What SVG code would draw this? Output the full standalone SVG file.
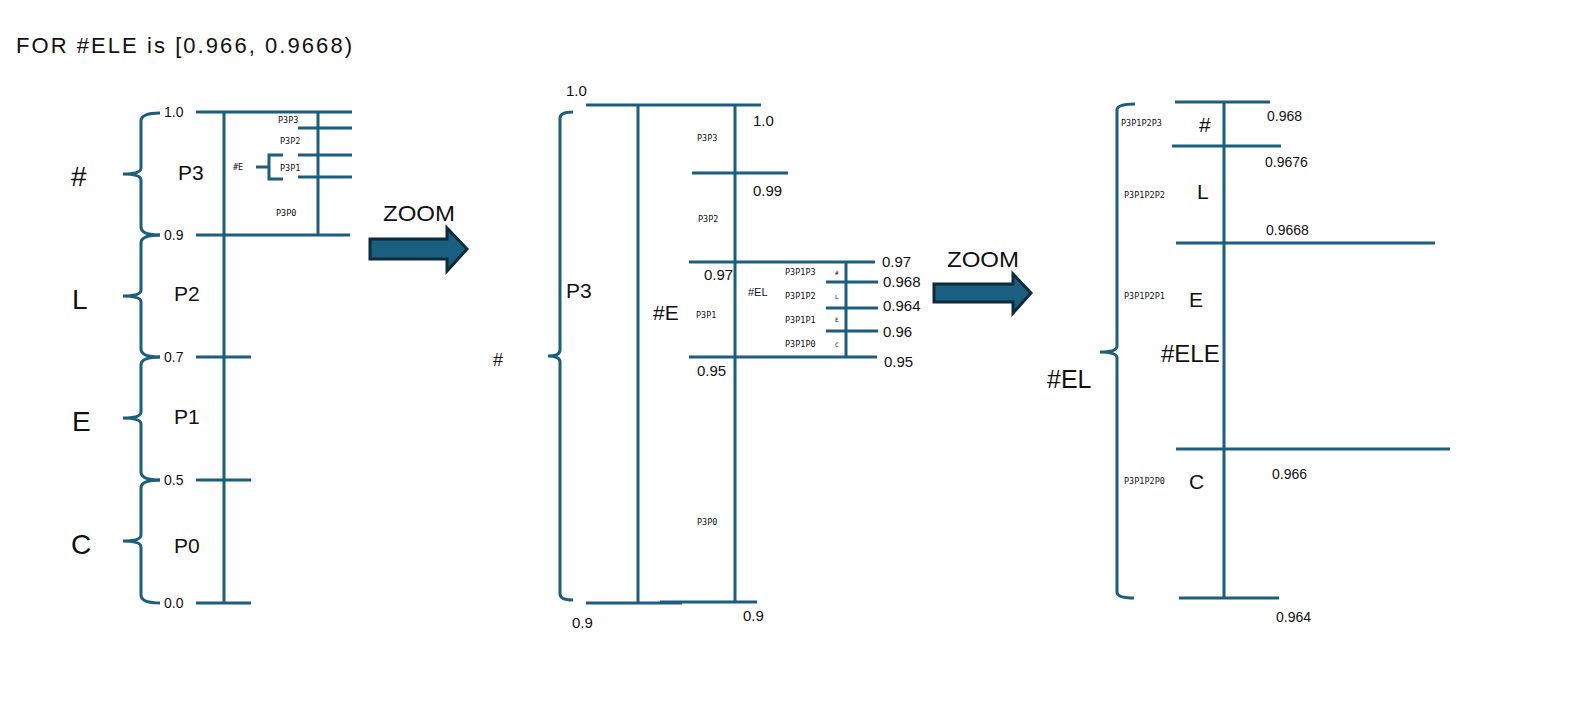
<svg xmlns="http://www.w3.org/2000/svg" width="1569" height="703" viewBox="0 0 1569 703">
<style>
.ln{stroke:#1a5f80;stroke-width:3;fill:none}
.br{stroke:#1a5f80;stroke-width:3;fill:none;stroke-linecap:butt}
.t{font-family:"Liberation Sans","DejaVu Sans",sans-serif;fill:#111}
.s14{font-size:14px}
.s15{font-size:15px}
.s20{font-size:21px}
.s28{font-size:28px}
.tiny{font-family:"DejaVu Sans Mono","Liberation Mono",monospace;font-size:8.5px;fill:#111}
.arr{fill:#1a5f80;stroke:#0d2b3b;stroke-width:3;stroke-linejoin:miter}
</style>
<rect width="1569" height="703" fill="#fff"/>
<text class="t" x="16" y="53" style="font-size:22px" textLength="336" lengthAdjust="spacing">FOR #ELE is [0.966, 0.9668)</text>

<g id="left-panel">
  <g id="left-axis">
    <line class="ln" x1="224" y1="112" x2="224" y2="604"/>
    <line class="ln" x1="196" y1="112" x2="352" y2="112"/>
    <line class="ln" x1="196" y1="235" x2="350" y2="235"/>
    <line class="ln" x1="196" y1="357" x2="251" y2="357"/>
    <line class="ln" x1="196" y1="480" x2="251" y2="480"/>
    <line class="ln" x1="196" y1="603" x2="251" y2="603"/>
    <text class="t s14" x="164" y="117">1.0</text>
    <text class="t s14" x="164" y="240">0.9</text>
    <text class="t s14" x="164" y="362">0.7</text>
    <text class="t s14" x="164" y="485">0.5</text>
    <text class="t s14" x="164" y="608">0.0</text>
  </g>
  <g id="left-braces">
    <path class="br" d="M160,113 Q141,113 141,121 L141,168 Q141,174 123,174 Q141,174 141,180 L141,227 Q141,235 160,235"/>
    <path class="br" d="M160,235 Q141,235 141,243 L141,290 Q141,296 123,296 Q141,296 141,302 L141,349 Q141,357 160,357"/>
    <path class="br" d="M160,357 Q141,357 141,365 L141,412 Q141,418 123,418 Q141,418 141,424 L141,472 Q141,480 160,480"/>
    <path class="br" d="M160,480 Q141,480 141,488 L141,535 Q141,541 123,541 Q141,541 141,547 L141,595 Q141,603 160,603"/>
  </g>
  <g id="left-labels">
    <text class="t s28" x="71" y="186">#</text>
    <text class="t s28" x="72" y="309">L</text>
    <text class="t s28" x="72" y="431">E</text>
    <text class="t s28" x="71" y="554">C</text>
    <text class="t s20" x="178" y="180">P3</text>
    <text class="t s20" x="174" y="301">P2</text>
    <text class="t s20" x="174" y="424">P1</text>
    <text class="t s20" x="174" y="553">P0</text>
  </g>
  <g id="left-sub">
    <line class="ln" x1="318" y1="112" x2="318" y2="235"/>
    <line class="ln" x1="298" y1="128" x2="352" y2="128"/>
    <line class="ln" x1="298" y1="155" x2="352" y2="155"/>
    <line class="ln" x1="298" y1="177" x2="352" y2="177"/>
    <text class="tiny" x="278" y="123">P3P3</text>
    <text class="tiny" x="280" y="144">P3P2</text>
    <text class="tiny" x="280" y="171">P3P1</text>
    <text class="tiny" x="276" y="216">P3P0</text>
    <text class="tiny" x="233" y="170">#E</text>
    <line class="ln" x1="256" y1="167" x2="269" y2="167"/>
    <path class="ln" d="M283,155 L269,155 L269,179 L283,179"/>
  </g>
</g>

<g id="zoom-arrow-1">
  <path class="arr" d="M370,239 L447,239 L447,228 L467,249 L447,271 L447,259 L370,259 Z"/>
  <text class="t" x="419" y="221" text-anchor="middle" style="font-size:22px" textLength="72" lengthAdjust="spacingAndGlyphs">ZOOM</text>
</g>

<g id="middle-panel">
  <g id="mid-axis">
    <line class="ln" x1="586" y1="105" x2="761" y2="105"/>
    <line class="ln" x1="638" y1="105" x2="638" y2="604"/>
    <line class="ln" x1="735" y1="105" x2="735" y2="603"/>
    <line class="ln" x1="692" y1="173" x2="788" y2="173"/>
    <line class="ln" x1="689" y1="262" x2="875" y2="262"/>
    <line class="ln" x1="689" y1="357" x2="877" y2="357"/>
    <line class="ln" x1="586" y1="603" x2="682" y2="603"/>
    <line class="ln" x1="660" y1="602" x2="757" y2="602"/>
    <text class="t s15" x="566" y="96">1.0</text>
    <text class="t s15" x="753" y="126">1.0</text>
    <text class="t s15" x="753" y="196">0.99</text>
    <text class="t s15" x="704" y="280">0.97</text>
    <text class="t s15" x="882" y="267">0.97</text>
    <text class="t s15" x="697" y="376">0.95</text>
    <text class="t s15" x="884" y="367">0.95</text>
    <text class="t s15" x="572" y="628">0.9</text>
    <text class="t s15" x="743" y="621">0.9</text>
    <text class="tiny" x="697" y="141">P3P3</text>
    <text class="tiny" x="698" y="222">P3P2</text>
    <text class="tiny" x="696" y="318">P3P1</text>
    <text class="tiny" x="697" y="525">P3P0</text>
  </g>
  <g id="mid-brace">
    <path class="br" d="M573,112 Q560,112 560,118 L560,350 Q560,356 548,356 Q560,356 560,362 L560,594 Q560,600 573,600"/>
    <text class="t" x="493" y="366" style="font-size:18px">#</text>
    <text class="t s20" x="566" y="298">P3</text>
    <text class="t s20" x="653" y="320">#E</text>
  </g>
  <g id="mid-sub">
    <line class="ln" x1="846" y1="262" x2="846" y2="357"/>
    <line class="ln" x1="826" y1="282" x2="878" y2="282"/>
    <line class="ln" x1="826" y1="308" x2="878" y2="308"/>
    <line class="ln" x1="826" y1="331" x2="878" y2="331"/>
    <text class="t s15" x="883" y="287">0.968</text>
    <text class="t s15" x="883" y="311">0.964</text>
    <text class="t s15" x="883" y="337">0.96</text>
    <text class="t" x="748" y="296" style="font-size:11px">#EL</text>
    <text class="tiny" x="785" y="275">P3P1P3</text>
    <text class="tiny" x="785" y="299">P3P1P2</text>
    <text class="tiny" x="785" y="323">P3P1P1</text>
    <text class="tiny" x="785" y="347">P3P1P0</text>
    <text class="tiny" x="835" y="275" style="font-size:6px">#</text>
    <text class="tiny" x="835" y="299" style="font-size:6px">L</text>
    <text class="tiny" x="835" y="322" style="font-size:6px">E</text>
    <text class="tiny" x="835" y="347" style="font-size:6px">C</text>
  </g>
</g>

<g id="zoom-arrow-2">
  <path class="arr" d="M934,284 L1013,284 L1013,274 L1031,293 L1013,313 L1013,302 L934,302 Z"/>
  <text class="t" x="983" y="267" text-anchor="middle" style="font-size:22px" textLength="72" lengthAdjust="spacingAndGlyphs">ZOOM</text>
</g>

<g id="right-panel">
  <g id="right-axis">
    <line class="ln" x1="1224" y1="102" x2="1224" y2="598"/>
    <line class="ln" x1="1175" y1="102" x2="1270" y2="102"/>
    <line class="ln" x1="1172" y1="146" x2="1281" y2="146"/>
    <line class="ln" x1="1176" y1="243" x2="1435" y2="243"/>
    <line class="ln" x1="1176" y1="449" x2="1450" y2="449"/>
    <line class="ln" x1="1179" y1="598" x2="1279" y2="598"/>
    <text class="t s14" x="1267" y="121">0.968</text>
    <text class="t s14" x="1265" y="167">0.9676</text>
    <text class="t s14" x="1266" y="235">0.9668</text>
    <text class="t s14" x="1272" y="479">0.966</text>
    <text class="t s14" x="1276" y="622">0.964</text>
  </g>
  <g id="right-brace">
    <path class="br" d="M1135,104 Q1117,104 1117,110 L1117,346 Q1117,352 1100,352 Q1117,352 1117,358 L1117,592 Q1117,598 1134,598"/>
    <text class="t" x="1047" y="388" style="font-size:25px">#EL</text>
  </g>
  <g id="right-labels">
    <text class="t s20" x="1199" y="132">#</text>
    <text class="t s20" x="1197" y="199">L</text>
    <text class="t s20" x="1189" y="307">E</text>
    <text class="t s20" x="1189" y="489">C</text>
    <text class="t" x="1161" y="362" style="font-size:24px">#ELE</text>
    <text class="tiny" x="1121" y="126">P3P1P2P3</text>
    <text class="tiny" x="1124" y="198">P3P1P2P2</text>
    <text class="tiny" x="1124" y="299">P3P1P2P1</text>
    <text class="tiny" x="1124" y="484">P3P1P2P0</text>
  </g>
</g>
</svg>
